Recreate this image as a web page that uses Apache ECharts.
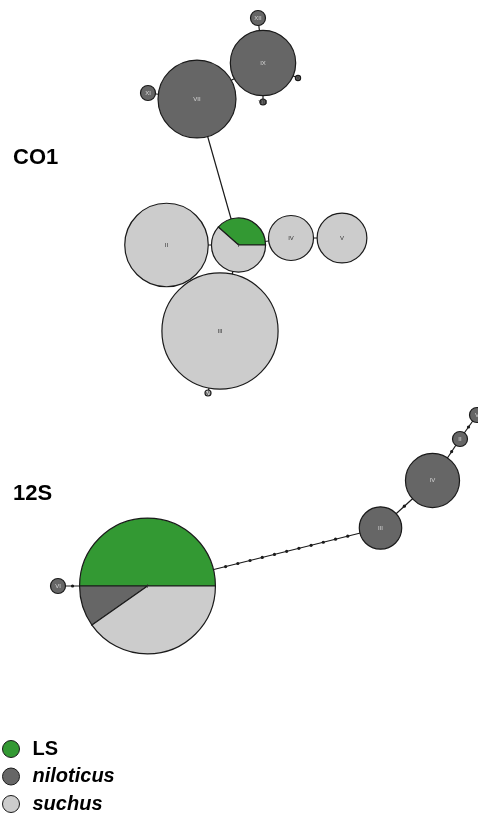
<!DOCTYPE html>
<html>
<head>
<meta charset="utf-8">
<title>CO1 / 12S haplotype networks</title>
<script src="https://cdn.jsdelivr.net/npm/echarts@6/dist/echarts.min.js"></script>
<style>
  html, body { margin: 0; padding: 0; background: #fff; }
  #chart { width: 478px; height: 814px; }
</style>
</head>
<body>
<div id="chart"></div>
<script>
// CO1 haplotypes: layout position and sample counts per group
const co1Names = ['I', 'II', 'III', 'IV', 'V', 'VI', 'VII', 'VIII', 'IX', 'X', 'XI', 'XII'];
const co1X = [238.5, 166.5, 220, 291, 342, 208, 197, 263, 263, 298, 148, 258];
const co1Y = [245, 245, 331, 238, 238, 393, 99, 102, 63, 78, 93, 18];
const co1LS = [5, 0, 0, 0, 0, 0, 0, 0, 0, 0, 0, 0];
const co1Nil = [0, 0, 0, 0, 0, 0, 27, 0.16, 19, 0.12, 1, 1];
const co1Such = [8, 31, 60, 9, 11, 0.16, 0, 0, 0, 0, 0, 0];
// links: [from, to, mutation steps]
const co1Links = [[0, 1, 0], [0, 2, 0], [0, 3, 0], [3, 4, 0], [2, 5, 0], [0, 6, 0],
                  [6, 8, 0], [6, 10, 0], [8, 11, 0], [8, 7, 0], [8, 9, 0]];

// 12S haplotypes
const s12Names = ['I', 'II', 'III', 'IV', 'V', 'VI'];
const s12X = [147.5, 460, 380.5, 432.5, 477, 58];
const s12Y = [586, 439, 528, 480.5, 415, 586];
const s12LS = [41, 0, 0, 0, 0, 0];
const s12Nil = [8, 1, 8, 13, 1, 1];
const s12Such = [33, 0, 0, 0, 0, 0];
const s12Links = [[0, 5, 1], [0, 2, 11], [2, 3, 1], [3, 1, 1], [1, 4, 1]];

const groups = ['LS', 'niloticus', 'suchus'];
const groupColors = ['#339933', '#666666', '#cccccc'];

const R1 = 7.5; // radius of a one-sample node
const STROKE = '#1a1a1a';

function collectNodes(names, xs, ys, counts) {
    return names.map((name, i) => {
        const c = counts.map(arr => arr[i]);
        return { name, x: xs[i], y: ys[i], counts: c, total: c.reduce((a, b) => a + b, 0) };
    });
}

const co1Nodes = collectNodes(co1Names, co1X, co1Y, [co1LS, co1Nil, co1Such]);
const s12Nodes = collectNodes(s12Names, s12X, s12Y, [s12LS, s12Nil, s12Such]);
const allNodes = co1Nodes.concat(s12Nodes);

function linkData(nodes, links) {
    return links.map(([a, b, steps]) => [
        nodes[a].x, nodes[a].y, nodes[b].x, nodes[b].y, nodes[a].total, nodes[b].total, steps
    ]);
}
const allLinks = linkData(co1Nodes, co1Links).concat(linkData(s12Nodes, s12Links));

// pie slices for one group, counter-clockwise from east
function sliceData(g) {
    const out = [];
    allNodes.forEach(n => {
        if (!n.counts[g]) return;
        const before = n.counts.slice(0, g).reduce((a, b) => a + b, 0);
        out.push([n.x, n.y, n.total, before / n.total, (before + n.counts[g]) / n.total]);
    });
    return out;
}

function radius(api, total) {
    return api.size([R1 * Math.sqrt(total), 0])[0];
}

function renderSlice(params, api) {
    const c = api.coord([api.value(0), api.value(1)]);
    const r = radius(api, api.value(2));
    const f0 = api.value(3), f1 = api.value(4);
    const style = { fill: api.visual('color'), stroke: STROKE, lineWidth: 1.2 };
    if (f1 - f0 > 0.9999) {
        return { type: 'circle', shape: { cx: c[0], cy: c[1], r: r }, style: style };
    }
    return {
        type: 'sector',
        shape: { cx: c[0], cy: c[1], r: r, r0: 0,
                 startAngle: -f1 * 2 * Math.PI, endAngle: -f0 * 2 * Math.PI, clockwise: true },
        style: style
    };
}

function renderLink(params, api) {
    const p1 = api.coord([api.value(0), api.value(1)]);
    const p2 = api.coord([api.value(2), api.value(3)]);
    const children = [{
        type: 'line',
        shape: { x1: p1[0], y1: p1[1], x2: p2[0], y2: p2[1] },
        style: { stroke: STROKE, lineWidth: 1.2 }
    }];
    const steps = api.value(6);
    if (steps > 0) {
        const r1 = radius(api, api.value(4));
        const r2 = radius(api, api.value(5));
        const dx = p2[0] - p1[0], dy = p2[1] - p1[1];
        const len = Math.hypot(dx, dy);
        const gap = (len - r1 - r2) / (steps + 1);
        for (let k = 1; k <= steps; k++) {
            const d = r1 + gap * k;
            children.push({
                type: 'circle',
                shape: { cx: p1[0] + dx * d / len, cy: p1[1] + dy * d / len, r: 1.6 },
                style: { fill: STROKE }
            });
        }
    }
    return { type: 'group', children: children };
}

function renderLabel(params, api) {
    const n = allNodes[params.dataIndex];
    const c = api.coord([api.value(0), api.value(1)]);
    const dark = n.counts[1] > n.counts[2] && n.counts[1] > n.counts[0] && n.total >= 1;
    return {
        type: 'text',
        x: c[0],
        y: c[1],
        style: {
            text: n.name,
            fill: dark ? '#d6d6d6' : '#333',
            font: '6px "Liberation Sans", sans-serif',
            align: 'center', verticalAlign: 'middle',
            textAlign: 'center', textVerticalAlign: 'middle'
        }
    };
}

const chart = echarts.init(document.getElementById('chart'));

const sliceSeries = groups.map((g, i) => ({
    name: g,
    type: 'custom',
    coordinateSystem: 'cartesian2d',
    itemStyle: { color: groupColors[i] },
    renderItem: renderSlice,
    data: sliceData(i),
    z: 3
}));

const option = {
    animation: false,
    grid: { left: 0, right: 0, top: 0, bottom: 0 },
    xAxis: { type: 'value', min: 0, max: 478, show: false },
    yAxis: { type: 'value', min: 0, max: 814, inverse: true, show: false },
    legend: {
        data: groups,
        orient: 'vertical',
        left: 2,
        top: 739,
        width: 200,
        height: 100,
        padding: 0,
        icon: 'circle',
        itemWidth: 17,
        itemHeight: 17,
        itemGap: 7.5,
        itemStyle: { borderColor: STROKE, borderWidth: 1 },
        formatter: name => name === 'LS' ? name : '{i|' + name + '}',
        textStyle: {
            fontFamily: '"Liberation Sans", sans-serif',
            fontSize: 20,
            lineHeight: 17,
            fontWeight: 'bold',
            color: '#000',
            padding: [0, 0, 0, 8],
            rich: {
                i: { fontFamily: '"Liberation Sans", sans-serif', fontSize: 20, lineHeight: 17,
                     fontWeight: 'bold', fontStyle: 'italic', color: '#000' }
            }
        }
    },
    graphic: [
        { type: 'text', left: 13, top: 147,
          style: { text: 'CO1', font: 'bold 22px "Liberation Sans", sans-serif', fill: '#000' } },
        { type: 'text', left: 13, top: 483,
          style: { text: '12S', font: 'bold 22px "Liberation Sans", sans-serif', fill: '#000' } }
    ],
    series: [
        {
            name: 'links',
            type: 'custom',
            coordinateSystem: 'cartesian2d',
            renderItem: renderLink,
            data: allLinks,
            z: 2
        }
    ].concat(sliceSeries, [
        {
            name: 'labels',
            type: 'custom',
            coordinateSystem: 'cartesian2d',
            renderItem: renderLabel,
            data: allNodes.map(n => [n.x, n.y]),
            z: 4
        }
    ])
};

chart.setOption(option);
window.addEventListener('resize', () => chart.resize());
</script>
</body>
</html>
